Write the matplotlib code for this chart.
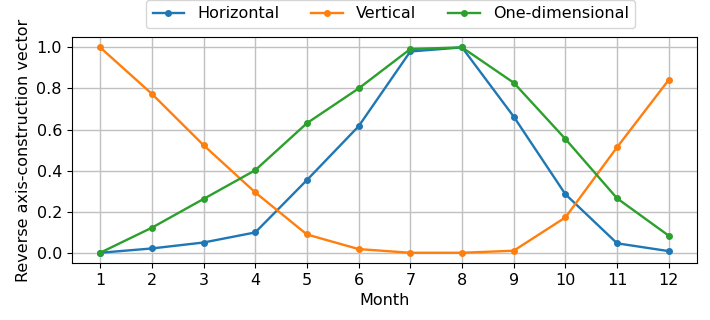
import matplotlib.pyplot as plt
import numpy as np

plt.rcParams['font.size'] = 11.5

months = np.arange(1, 13)
horizontal = [0.0, 0.021, 0.05, 0.099, 0.354, 0.616, 0.98, 1.0, 0.663, 0.285, 0.046, 0.008]
vertical = [1.0, 0.774, 0.524, 0.294, 0.089, 0.018, 0.0, 0.0, 0.01, 0.172, 0.514, 0.842]
one_dim = [0.0, 0.122, 0.262, 0.402, 0.631, 0.8, 0.992, 1.0, 0.828, 0.554, 0.265, 0.083]

fig, ax = plt.subplots(figsize=(7.1, 3.2), dpi=100)

ax.plot(months, horizontal, marker='o', markersize=4, linewidth=1.7, label='Horizontal')
ax.plot(months, vertical, marker='o', markersize=4, linewidth=1.7, label='Vertical')
ax.plot(months, one_dim, marker='o', markersize=4, linewidth=1.7, label='One-dimensional')

ax.set_xticks(months)
ax.set_xlabel('Month')
ax.set_ylabel('Reverse axis-construction vector')
ax.grid(True, linewidth=1, color='#c0c0c0')
ax.legend(loc='upper center', bbox_to_anchor=(0.51, 1.2), ncol=3)

fig.subplots_adjust(left=0.101, right=0.982, top=0.884, bottom=0.178)
fig.savefig('out.png')
